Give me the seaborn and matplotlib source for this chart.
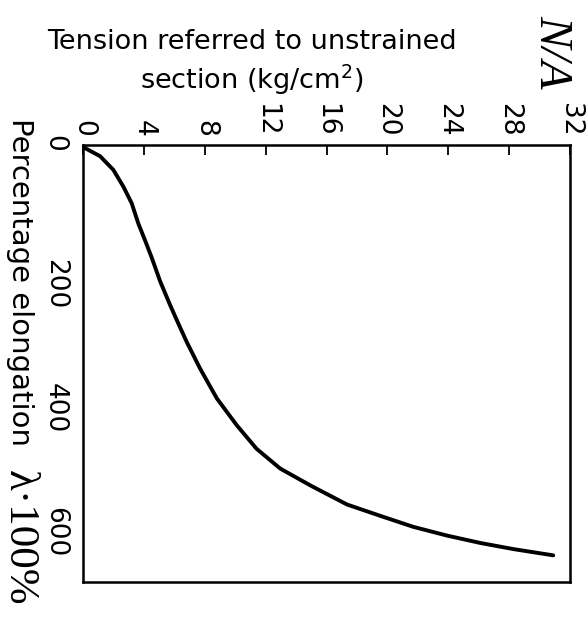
import matplotlib
matplotlib.use("Agg")
import matplotlib.pyplot as plt
import seaborn as sns

# values
tension = [0.0, 0.13, 1.12, 1.99, 2.65, 3.2, 3.64, 4.08, 4.52, 5.07, 5.72,
           6.3, 6.82, 7.7, 8.8, 10.1, 11.4, 12.96, 15.0, 17.35, 19.5,
           21.7, 23.9, 26.1, 28.3, 30.9]
elongation = [0, 5, 18, 40, 67, 94, 127, 154, 182, 220, 258,
              290, 318, 361, 409, 452, 490, 522, 550, 580, 598,
              616, 630, 642, 652, 662]

x_ticks = [0, 4, 8, 12, 16, 20, 24, 28, 32]
y_ticks = [0, 100, 200, 300, 400, 500, 600]
y_tick_labels = ["0", "", "200", "", "400", "", "600"]

sns.set_theme(style="white")
plt.rcParams["font.family"] = ["DejaVu Sans"]
plt.rcParams["axes.edgecolor"] = "black"
plt.rcParams["axes.linewidth"] = 1.8
plt.rcParams["text.color"] = "black"

fig = plt.figure(figsize=(5.88, 6.25), dpi=100)
ax = fig.add_axes([83 / 588, 1 - 582 / 625, 487 / 588, 437 / 625])

sns.lineplot(x=tension, y=elongation, ax=ax, color="black",
             linewidth=2.8, sort=False, solid_joinstyle="round",
             solid_capstyle="round")

ax.set_xlim(0, 32)
ax.set_ylim(705, 0)
ax.xaxis.tick_top()
ax.set_xticks(x_ticks)
ax.set_xticklabels([str(t) for t in x_ticks])
ax.set_yticks(y_ticks)
ax.set_yticklabels(y_tick_labels)
ax.tick_params(axis="both", direction="in", length=7, width=1.3,
               color="black", labelsize=19, labelcolor="black")
ax.tick_params(axis="x", labelrotation=-90, pad=6)
ax.tick_params(axis="y", labelrotation=-90, pad=11)
ax.set_xlabel("")
ax.set_ylabel("")

# axis titles, placed like the scan
fig.text(252 / 588, 1 - 63 / 625, "Tension referred to unstrained\nsection (kg/cm$^2$)",
         ha="center", va="center", fontsize=19.5, linespacing=1.3)
fig.text(552 / 588, 1 - 52 / 625, "N/A", rotation=-90, ha="center", va="center",
         family="Liberation Serif", style="italic", fontsize=34)
fig.text(20 / 588, 1 - 282 / 625, "Percentage elongation", rotation=-90,
         ha="center", va="center", fontsize=21)
fig.text(19 / 588, 1 - 538 / 625, "λ·100%", rotation=-90, ha="center", va="center",
         family="Liberation Serif", fontsize=31)

fig.savefig("out.png", dpi=100)
